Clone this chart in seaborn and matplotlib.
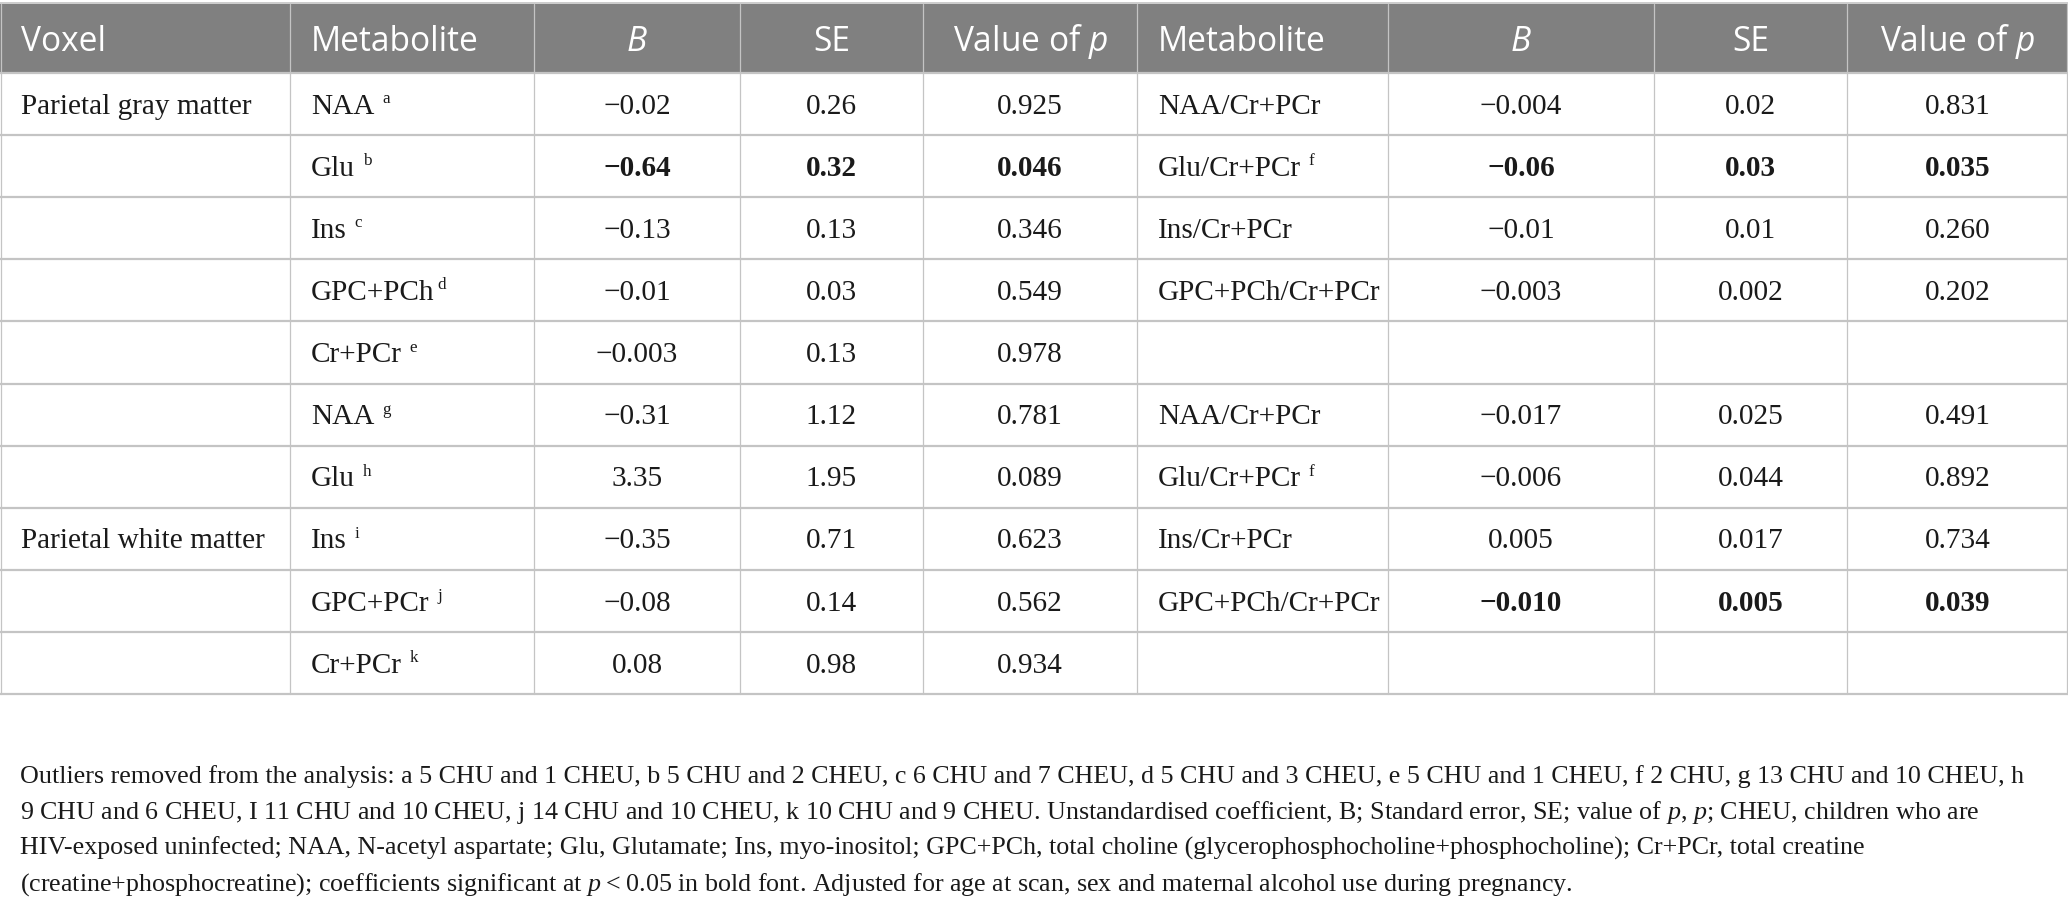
import matplotlib
matplotlib.use("Agg")
import matplotlib.pyplot as plt
import seaborn as sns

# ---------------- data ----------------
voxel = ["Parietal gray matter", "", "", "", "", "", "", "Parietal white matter", "", ""]
met1 = ["NAA", "Glu", "Ins", "GPC+PCh", "Cr+PCr", "NAA", "Glu", "Ins", "GPC+PCr", "Cr+PCr"]
sup1 = ["a", "b", "c", "d", "e", "g", "h", "i", "j", "k"]
gap1 = [True, True, True, False, True, True, True, True, True, True]
b1 = ["\u22120.02", "\u22120.64", "\u22120.13", "\u22120.01", "\u22120.003",
      "\u22120.31", "3.35", "\u22120.35", "\u22120.08", "0.08"]
se1 = ["0.26", "0.32", "0.13", "0.03", "0.13", "1.12", "1.95", "0.71", "0.14", "0.98"]
p1 = ["0.925", "0.046", "0.346", "0.549", "0.978", "0.781", "0.089", "0.623", "0.562", "0.934"]
bold1 = [False, True, False, False, False, False, False, False, False, False]

met2 = ["NAA/Cr+PCr", "Glu/Cr+PCr", "Ins/Cr+PCr", "GPC+PCh/Cr+PCr", "",
        "NAA/Cr+PCr", "Glu/Cr+PCr", "Ins/Cr+PCr", "GPC+PCh/Cr+PCr", ""]
sup2 = ["", "f", "", "", "", "", "f", "", "", ""]
b2 = ["\u22120.004", "\u22120.06", "\u22120.01", "\u22120.003", "",
      "\u22120.017", "\u22120.006", "0.005", "\u22120.010", ""]
se2 = ["0.02", "0.03", "0.01", "0.002", "", "0.025", "0.044", "0.017", "0.005", ""]
p2 = ["0.831", "0.035", "0.260", "0.202", "", "0.491", "0.892", "0.734", "0.039", ""]
bold2 = [False, True, False, False, False, False, False, False, True, False]

headers = ["Voxel", "Metabolite", r"$\mathsf{B}$", "SE", r"Value of $\mathsf{p}$",
           "Metabolite", r"$\mathsf{B}$", "SE", r"Value of $\mathsf{p}$"]
header_align = ["left", "left", "center", "center", "center", "left", "center", "center", "center"]

notes = [
    "Outliers removed from the analysis: a 5 CHU and 1 CHEU, b 5 CHU and 2 CHEU, c 6 CHU and 7 CHEU, "
    "d 5 CHU and 3 CHEU, e 5 CHU and 1 CHEU, f 2 CHU, g 13 CHU and 10 CHEU, h",
    "9 CHU and 6 CHEU, I 11 CHU and 10 CHEU, j 14 CHU and 10 CHEU, k 10 CHU and 9 CHEU. Unstandardised "
    "coefficient, B; Standard error, SE; value of $p$, $p$; CHEU, children who are",
    "HIV-exposed uninfected; NAA, N-acetyl aspartate; Glu, Glutamate; Ins, myo-inositol; GPC+PCh, total "
    "choline (glycerophosphocholine+phosphocholine); Cr+PCr, total creatine",
    "(creatine+phosphocreatine); coefficients significant at $p$\u2009<\u20090.05 in bold font. Adjusted for "
    "age at scan, sex and maternal alcohol use during pregnancy.",
]

# ---------------- style ----------------
sns.set_theme(style="white")
SERIF = ["Liberation Serif", "DejaVu Serif"]
SANS = ["Open Sans", "DejaVu Sans"]
plt.rcParams["font.family"] = SERIF
plt.rcParams["mathtext.fontset"] = "custom"
plt.rcParams["mathtext.rm"] = "Liberation Serif"
plt.rcParams["mathtext.it"] = "Liberation Serif:italic"
plt.rcParams["mathtext.sf"] = "Open Sans:italic"
plt.rcParams["mathtext.default"] = "it"

W, H = 2068, 907
fig = plt.figure(figsize=(W / 100, H / 100), dpi=100)
ax = fig.add_axes([0, 0, 1, 1])
ax.set_xlim(0, W)
ax.set_ylim(H, 0)
ax.axis("off")
renderer = fig.canvas.get_renderer()


def text_width(s, **kw):
    t = ax.text(0, 0, s, **kw)
    w = t.get_window_extent(renderer).width
    t.remove()
    return w


body_fs = 21 * 230 / text_width("Parietal gray matter", fontsize=21, family=SERIF)
head_fs = 24 * 168 / text_width("Metabolite", fontsize=24, family=SANS)
note_fs = 18 * 2006 / text_width(notes[0], fontsize=18, family=SERIF)

col_edges = [0, 290, 534, 740, 923, 1137, 1388, 1654, 1847, W]
head_top, head_bot = 4, 73
row_h = 62.1
n_rows = len(met1)
row_lines = [head_bot + row_h * i for i in range(n_rows + 1)]
grid_col = "#c4c4c4"
ink = "#1a1a1a"

# header background
ax.fill_between([0, W], head_top, head_bot, color="#808080", lw=0, zorder=1)
ax.plot([0, W], [head_top - 1, head_top - 1], color=grid_col, lw=1.2, zorder=2)
# horizontal lines
for y in row_lines:
    ax.plot([0, W], [y, y], color=grid_col, lw=1.6, zorder=2, solid_capstyle="butt")
# vertical lines
for x in col_edges:
    xx = min(max(x, 0.6), W - 0.6)
    ax.plot([xx, xx], [head_top, row_lines[-1]], color=grid_col, lw=0.9, zorder=2)

pad = 21


def cell_x(ci, align):
    if align == "left":
        return col_edges[ci] + pad
    return (col_edges[ci] + col_edges[ci + 1]) / 2


# header texts
hy = (head_top + head_bot) / 2 + head_fs * 1.389 * 0.36
for ci, (h, al) in enumerate(zip(headers, header_align)):
    ax.text(cell_x(ci, al), hy, h, ha=al, va="baseline", color="white",
            fontsize=head_fs, family=SANS, zorder=3)


def metabolite(ci, y, name, sup, gap):
    x = cell_x(ci, "left")
    t = ax.text(x, y, name, ha="left", va="baseline", fontsize=body_fs, color=ink, zorder=3)
    if sup:
        w = t.get_window_extent(renderer).width
        sx = x + w + (body_fs * 1.389 * 0.26 if gap else body_fs * 0.12)
        ax.text(sx, y - body_fs * 1.389 * 0.36, sup, ha="left", va="baseline",
                fontsize=body_fs * 0.58, color=ink, zorder=3)


for r in range(n_rows):
    yc = head_bot + row_h * (r + 0.5)
    yb = yc + body_fs * 1.389 * 0.33
    if voxel[r]:
        ax.text(cell_x(0, "left"), yb, voxel[r], ha="left", va="baseline",
                fontsize=body_fs, color=ink, zorder=3)
    metabolite(1, yb, met1[r], sup1[r], gap1[r])
    wt1 = "bold" if bold1[r] else "normal"
    for ci, v in zip([2, 3, 4], [b1[r], se1[r], p1[r]]):
        ax.text(cell_x(ci, "center"), yb, v, ha="center", va="baseline",
                fontsize=body_fs, fontweight=wt1, color=ink, zorder=3)
    if met2[r]:
        metabolite(5, yb, met2[r], sup2[r], True)
    wt2 = "bold" if bold2[r] else "normal"
    for ci, v in zip([6, 7, 8], [b2[r], se2[r], p2[r]]):
        if v:
            ax.text(cell_x(ci, "center"), yb, v, ha="center", va="baseline",
                    fontsize=body_fs, fontweight=wt2, color=ink, zorder=3)

# footnotes
note_y0 = 774
note_dy = 36.0
for i, line in enumerate(notes):
    ax.text(20, note_y0 + i * note_dy + note_fs * 1.389 * 0.33, line, ha="left", va="baseline",
            fontsize=note_fs, color=ink, zorder=3)

fig.savefig("out.png", dpi=100, facecolor="white")
